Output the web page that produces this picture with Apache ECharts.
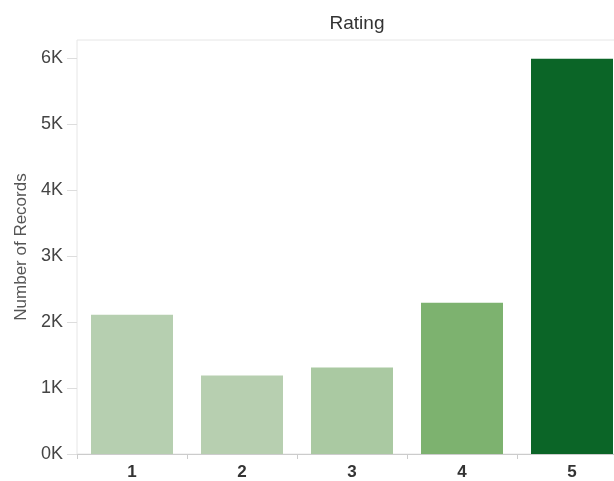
<!DOCTYPE html>
<html>
<head>
<meta charset="utf-8">
<style>html,body{margin:0;padding:0;background:#fff;overflow:hidden;width:614px;height:481px}#c{width:630px;height:481px}</style>
<script src="https://cdn.jsdelivr.net/npm/echarts@6/dist/echarts.min.js"></script>
</head>
<body>
<div id="c"></div>
<script>
const categories = ['1', '2', '3', '4', '5'];
const records = [2110, 1190, 1310, 2290, 5985];
const yTicks = [0, 1000, 2000, 3000, 4000, 5000, 6000];

const barColors = ['#b6cfb0', '#b7cfb0', '#aac9a2', '#7db26f', '#0b6527'];
const FONT = '"Liberation Sans", Arial, Helvetica, sans-serif';

const chart = echarts.init(document.getElementById('c'), null, {renderer: 'canvas'});
chart.setOption({
  animation: false,
  backgroundColor: '#ffffff',
  title: {
    text: 'Rating',
    left: 352,
    top: 9,
    textAlign: 'center',
    textStyle: {fontFamily: FONT, fontSize: 19, fontWeight: 'normal', color: '#333'}
  },
  grid: {
    left: 77, top: 40, width: 550, height: 416,
    show: true, borderColor: '#e6e6e6', borderWidth: 1, backgroundColor: 'transparent'
  },
  xAxis: {
    type: 'category',
    data: categories,
    axisLine: {show: true, lineStyle: {color: '#cccccc', width: 1}},
    axisTick: {show: true, length: 5, lineStyle: {color: '#cccccc'}},
    axisLabel: {margin: 10, fontFamily: FONT, fontSize: 17, fontWeight: 'bold', color: '#333'},
    splitLine: {show: false}
  },
  yAxis: {
    type: 'value',
    min: 0,
    max: 6270,
    interval: 1000,
    name: 'Number of Records',
    nameLocation: 'middle',
    nameGap: 46,
    nameTextStyle: {fontFamily: FONT, fontSize: 17, color: '#555'},
    axisLine: {show: false},
    axisTick: {show: true, length: 10, customValues: yTicks, lineStyle: {color: '#dddddd'}},
    axisLabel: {
      margin: 14,
      customValues: yTicks,
      fontFamily: FONT, fontSize: 18, color: '#444',
      formatter: v => (v / 1000) + 'K'
    },
    splitLine: {show: false}
  },
  series: [{
    type: 'bar',
    data: records.map((v, i) => ({value: v, itemStyle: {color: barColors[i]}})),
    barWidth: 82
  }]
});
</script>
</body>
</html>
